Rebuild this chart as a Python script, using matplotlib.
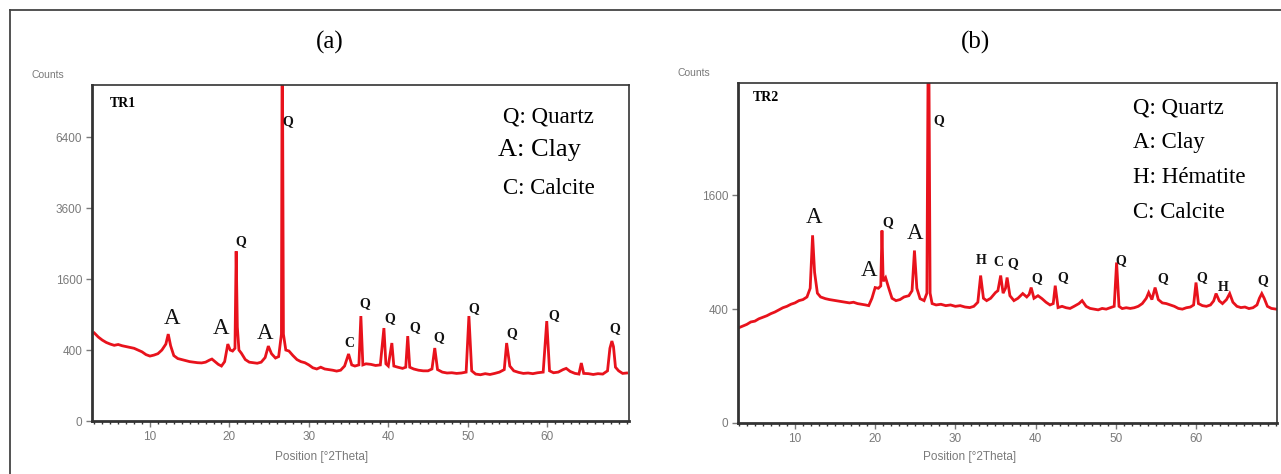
import numpy as np
import matplotlib
matplotlib.use("Agg")
import matplotlib.pyplot as plt
from matplotlib.lines import Line2D
from matplotlib.ticker import MultipleLocator

# ---- data (2theta, counts) ----
tr1_pos = [3.0, 3.5, 4.0, 4.5, 5.0, 5.5, 6.0, 6.5, 7.0, 7.5, 8.0, 8.5, 9.0, 9.5,
           10.0, 10.5, 11.0, 11.5, 12.0, 12.3, 12.6, 13.0, 13.5, 14.0, 14.5, 15.0,
           15.5, 16.0, 16.5, 17.0, 17.5, 17.8, 18.2, 18.6, 19.0, 19.4, 19.8, 20.1,
           20.4, 20.7, 20.85, 21.0, 21.2, 21.5, 22.0, 22.5, 23.0, 23.5, 24.0, 24.5,
           24.9, 25.3, 25.8, 26.2, 26.55, 26.65, 26.8, 27.1, 27.5, 28.0, 28.5, 29.0,
           29.5, 30.0, 30.5, 31.0, 31.5, 32.0, 32.5, 33.0, 33.5, 34.0, 34.5, 35.0,
           35.4, 35.8, 36.3, 36.55, 36.8, 37.2, 37.8, 38.4, 39.0, 39.45, 39.7, 40.0,
           40.45, 40.7, 41.2, 41.8, 42.2, 42.45, 42.7, 43.2, 43.8, 44.4, 45.0, 45.5,
           45.85, 46.2, 46.8, 47.4, 48.0, 48.6, 49.2, 49.8, 50.15, 50.5, 51.0, 51.6,
           52.2, 52.8, 53.4, 54.0, 54.6, 54.9, 55.3, 55.8, 56.4, 57.0, 57.6, 58.2,
           58.8, 59.5, 59.95, 60.3, 60.8, 61.4, 62.0, 62.4, 62.9, 63.5, 64.0, 64.3,
           64.6, 65.2, 65.8, 66.4, 67.0, 67.6, 67.9, 68.15, 68.35, 68.6, 69.0, 69.5,
           70.0]
tr1_counts = [615, 560, 520, 490, 470, 455, 465, 450, 440, 430, 420, 400, 380, 350,
              335, 345, 360, 400, 470, 600, 450, 340, 310, 300, 290, 280,
              275, 270, 268, 275, 295, 305, 280, 255, 240, 280, 470, 400,
              389, 420, 2290, 700, 400, 366, 300, 275, 270, 265, 275, 320,
              446, 360, 315, 330, 600, 14000, 600, 400, 389, 340, 300, 280,
              270, 250, 225, 215, 230, 215, 210, 205, 198, 205, 240, 357,
              250, 240, 250, 875, 250, 260, 255, 245, 250, 686, 260, 240,
              483, 240, 230, 220, 230, 573, 230, 215, 205, 200, 200, 215,
              423, 210, 190, 183, 185, 180, 183, 190, 875, 200, 175, 170,
              178, 172, 180, 190, 210, 483, 240, 200, 188, 180, 183, 178,
              185, 190, 793, 200, 185, 190, 210, 220, 195, 180, 175, 267,
              180, 178, 172, 178, 175, 200, 420, 508, 440, 230, 200, 180,
              183]

tr2_pos = [3.0, 3.5, 4.0, 4.5, 5.0, 5.5, 6.0, 6.5, 7.0, 7.5, 8.0, 8.5, 9.0, 9.5,
           10.0, 10.5, 11.0, 11.5, 11.9, 12.2, 12.45, 12.8, 13.2, 13.8, 14.3, 14.8,
           15.3, 15.8, 16.3, 16.8, 17.3, 17.8, 18.3, 18.8, 19.2, 19.6, 20.0, 20.4,
           20.7, 20.85, 21.0, 21.3, 21.7, 22.1, 22.6, 23.1, 23.6, 24.2, 24.6, 24.9,
           25.2, 25.6, 26.1, 26.45, 26.65, 26.85, 27.1, 27.6, 28.2, 28.8, 29.4, 30.0,
           30.6, 31.2, 31.8, 32.3, 32.8, 33.15, 33.5, 33.9, 34.4, 35.0, 35.3, 35.65,
           35.95, 36.25, 36.45, 36.8, 37.3, 37.8, 38.4, 38.9, 39.2, 39.45, 39.8, 40.3,
           40.8, 41.3, 41.8, 42.2, 42.45, 42.8, 43.3, 43.8, 44.3, 44.8, 45.4, 45.8,
           46.3, 46.8, 47.3, 47.8, 48.3, 48.8, 49.3, 49.8, 50.1, 50.4, 50.8, 51.3,
           51.8, 52.3, 52.8, 53.3, 53.8, 54.1, 54.5, 54.9, 55.3, 55.8, 56.3, 56.8,
           57.3, 57.8, 58.3, 58.8, 59.3, 59.7, 60.0, 60.3, 60.8, 61.3, 61.8, 62.2,
           62.5, 62.9, 63.3, 63.8, 64.2, 64.6, 65.1, 65.6, 66.1, 66.6, 67.1, 67.6,
           67.9, 68.2, 68.5, 68.9, 69.4, 70.0]
tr2_counts = [280, 290, 300, 315, 320, 335, 345, 355, 369, 380, 395, 410, 420, 435,
              445, 462, 470, 490, 560, 1087, 700, 520, 490, 477, 470, 465,
              460, 455, 450, 445, 450, 440, 435, 430, 425, 480, 566, 560,
              580, 1143, 620, 652, 560, 480, 462, 470, 490, 500, 540, 918,
              560, 477, 462, 520, 6000, 520, 440, 430, 435, 425, 430, 420,
              425, 415, 411, 420, 450, 671, 480, 462, 480, 525, 540, 671,
              520, 560, 653, 500, 462, 480, 517, 490, 510, 566, 480, 500,
              477, 450, 430, 440, 582, 411, 420, 410, 405, 420, 440, 462,
              420, 405, 400, 395, 405, 400, 410, 420, 795, 420, 404, 410,
              405, 410, 420, 440, 480, 525, 470, 566, 470, 445, 440, 430,
              420, 405, 400, 410, 415, 430, 609, 440, 425, 420, 430, 460,
              517, 460, 440, 470, 517, 450, 420, 411, 415, 404, 410, 430,
              480, 517, 480, 420, 405, 400]

# peak letters: name, 2theta, counts where the letter sits
tr1_names = ["A", "A", "A", "Q", "Q", "C", "Q", "Q", "Q", "Q", "Q", "Q", "Q", "Q"]
tr1_lab_x = [12.8, 18.9, 24.5, 21.4, 27.3, 35.1, 37.1, 40.2, 43.3, 46.4, 50.7, 55.6, 60.8, 68.5]
tr1_lab_y = [842, 686, 615, 2570, 7140, 483, 1086, 825, 686, 547, 995, 600, 875, 671]

tr2_names = ["A", "A", "A", "Q", "Q", "H", "C", "Q", "Q", "Q", "Q", "Q", "Q", "H", "Q"]
tr2_lab_x = [12.4, 19.2, 25.0, 21.6, 27.9, 33.2, 35.3, 37.1, 40.1, 43.4, 50.6, 55.8, 60.7, 63.4, 68.3]
tr2_lab_y = [1305, 717, 1109, 1242, 2830, 815, 795, 785, 644, 653, 815, 644, 653, 566, 626]

tr1_legend = ["Q: Quartz", "A: Clay", "C: Calcite"]
tr2_legend = ["Q: Quartz", "A: Clay", "H: Hématite", "C: Calcite"]

x_major = [10, 20, 30, 40, 50, 60]

RED = "#e8121c"
GREY = "#7a7a7a"
SPINE = "#333333"


def sqrt_fwd(v):
    return np.sqrt(np.clip(v, 0, None))


def sqrt_inv(v):
    return np.asarray(v) ** 2


def draw_panel(ax, pos, counts, names, lab_x, lab_y, ymax, yticks, xlim):
    ax.plot(pos, counts, color=RED, lw=2.0, solid_joinstyle="miter")
    ax.set_yscale("function", functions=(sqrt_fwd, sqrt_inv))
    ax.set_ylim(0, ymax)
    ax.set_xlim(*xlim)
    ax.set_yticks(yticks)
    ax.set_yticklabels([str(t) for t in yticks])
    # scan software only labels 10..60
    ax.set_xticks(x_major)
    ax.xaxis.set_minor_locator(MultipleLocator(1))
    ax.tick_params(axis="both", which="major", direction="out", length=4, width=1,
                   color=GREY, labelcolor=GREY, labelsize=8.5, pad=3)
    ax.tick_params(axis="x", which="minor", direction="out", length=2.5, width=1,
                   color=SPINE)
    ax.yaxis.set_minor_locator(plt.NullLocator())
    for lab in ax.get_xticklabels() + ax.get_yticklabels():
        lab.set_family("Liberation Sans")
    for side in ("left", "bottom"):
        ax.spines[side].set_linewidth(2.0)
        ax.spines[side].set_color(SPINE)
    for side in ("top", "right"):
        ax.spines[side].set_linewidth(1.2)
        ax.spines[side].set_color(SPINE)
    for name, x, y in zip(names, lab_x, lab_y):
        if name == "A":
            ax.text(x, y, name, ha="center", va="center", fontsize=16.5,
                    family="Liberation Serif", color="#111111")
        else:
            ax.text(x, y, name, ha="center", va="center", fontsize=10,
                    family="Liberation Serif", fontweight="bold", color="#111111")


fig = plt.figure(figsize=(12.81, 4.74), dpi=100)

# outer frame (top and left edges only are visible)
fig.add_artist(Line2D([10 / 1281, 1.0], [1 - 10 / 474, 1 - 10 / 474],
                      transform=fig.transFigure, color="#444444", lw=1.3))
fig.add_artist(Line2D([10 / 1281, 10 / 1281], [0.0, 1 - 10 / 474],
                      transform=fig.transFigure, color="#444444", lw=1.3))

ax1 = fig.add_axes([0.0718, 0.1118, 0.4192, 0.7089])
ax2 = fig.add_axes([0.5761, 0.1076, 0.4208, 0.7173])

draw_panel(ax1, tr1_pos, tr1_counts, tr1_names, tr1_lab_x, tr1_lab_y,
           8970, [0, 400, 1600, 3600, 6400], (2.7, 70.3))
draw_panel(ax2, tr2_pos, tr2_counts, tr2_names, tr2_lab_x, tr2_lab_y,
           3567, [0, 400, 1600], (2.9, 70.1))

# sample names
ax1.text(0.034, 0.946, "TR1", transform=ax1.transAxes, ha="left", va="center",
         fontsize=10, fontweight="bold", family="Liberation Serif")
ax2.text(0.028, 0.956, "TR2", transform=ax2.transAxes, ha="left", va="center",
         fontsize=10, fontweight="bold", family="Liberation Serif")

# phase key
for txt, y in zip(tr1_legend, [0.905, 0.806, 0.693]):
    ax1.text(0.765 if txt != "A: Clay" else 0.756, y, txt, transform=ax1.transAxes,
             ha="left", va="center", family="Liberation Serif",
             fontsize=19 if txt == "A: Clay" else 16.5)
for txt, y in zip(tr2_legend, [0.926, 0.826, 0.721, 0.618]):
    ax2.text(0.732, y, txt, transform=ax2.transAxes, ha="left", va="center",
             family="Liberation Serif", fontsize=16.5)

# axis titles in figure pixels
fig.text(48 / 1281, 1 - 75 / 474, "Counts", ha="center", va="center",
         fontsize=7.5, color=GREY, family="Liberation Sans")
fig.text(694 / 1281, 1 - 73 / 474, "Counts", ha="center", va="center",
         fontsize=7.5, color=GREY, family="Liberation Sans")
fig.text(322 / 1281, 1 - 457 / 474, "Position [°2Theta]", ha="center", va="center",
         fontsize=8.5, color=GREY, family="Liberation Sans")
fig.text(970 / 1281, 1 - 457 / 474, "Position [°2Theta]", ha="center", va="center",
         fontsize=8.5, color=GREY, family="Liberation Sans")

# panel letters
fig.text(330 / 1281, 1 - 42 / 474, "(a)", ha="center", va="center",
         fontsize=18, family="Liberation Serif")
fig.text(975 / 1281, 1 - 42 / 474, "(b)", ha="center", va="center",
         fontsize=18, family="Liberation Serif")

fig.savefig("out.png", dpi=100)
